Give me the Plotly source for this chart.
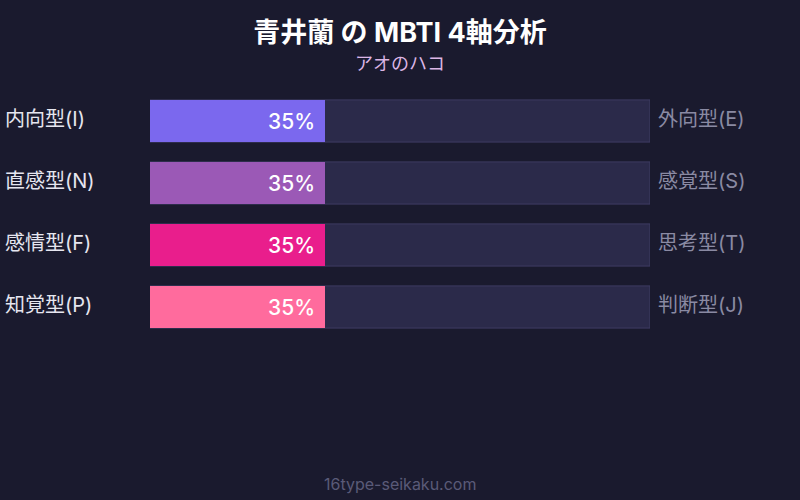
import plotly.graph_objects as go

categories = ["内向型(I)", "直感型(N)", "感情型(F)", "知覚型(P)"]
opposites = ["外向型(E)", "感覚型(S)", "思考型(T)", "判断型(J)"]
values = [35, 35, 35, 35]
colors = ["#7b68ee", "#9b59b6", "#e91e8c", "#ff6b9d"]
track = [100, 100, 100, 100]

FONT = "Inter, Noto Sans CJK JP, sans-serif"

fig = go.Figure()
fig.add_trace(go.Bar(
    y=categories, x=track, orientation="h", width=0.68, offset=-0.34,
    marker=dict(color="#2b2a4a", line=dict(color="#3e3c62", width=1)),
    hoverinfo="skip", showlegend=False,
))
fig.add_trace(go.Bar(
    y=categories, x=values, orientation="h", width=0.68, offset=-0.34,
    marker=dict(color=colors, cornerradius=8, line=dict(color="rgba(0,0,0,0)", width=0.5)),
    showlegend=False,
))

annotations = []
for c, o, v in zip(categories, opposites, values):
    annotations.append(dict(x=v, y=c, xref="x", yref="y", text=f"{v}%",
                            showarrow=False, xanchor="right", xshift=-8,
                            font=dict(family=FONT, size=21, color="white", weight=500)))
    annotations.append(dict(x=(3 - 150) / 500, y=c, xref="paper", yref="y", text=c,
                            showarrow=False, xanchor="left", yshift=2,
                            font=dict(family=FONT, size=20, color="#e6e6f0")))
    annotations.append(dict(x=(656 - 150) / 500, y=c, xref="paper", yref="y", text=o,
                            showarrow=False, xanchor="left", yshift=2,
                            font=dict(family=FONT, size=20, color="#8a8aa3")))

annotations.append(dict(x=0.5, y=1 + (90 - 63) / 248, xref="paper", yref="paper",
                        text="アオのハコ", showarrow=False, yanchor="middle",
                        font=dict(family=FONT, size=18, color="#dcb6e6")))
annotations.append(dict(x=0.5, y=-(484 - 338) / 248, xref="paper", yref="paper",
                        text="16type-seikaku.com", showarrow=False, yanchor="middle",
                        font=dict(family=FONT, size=16, color="#5a5a78")))

fig.update_layout(
    width=800, height=500,
    paper_bgcolor="#1a1a2e", plot_bgcolor="#1a1a2e",
    margin=dict(l=150, r=150, t=90, b=162),
    barmode="group", barcornerradius=8,
    title=dict(text="<b>青井蘭 の MBTI 4軸分析</b>", x=0.5, xanchor="center",
               y=1 - 33 / 500, yanchor="middle",
               font=dict(family=FONT, size=27, color="white")),
    xaxis=dict(range=[0, 100], visible=False, fixedrange=True),
    yaxis=dict(autorange="reversed", visible=False, fixedrange=True),
    font=dict(family=FONT),
    annotations=annotations,
)

fig.data[0].marker.cornerradius = 0

fig.write_html("out.html", config={"displayModeBar": False},
               post_script="document.body.style.margin='0';document.body.style.background='#1a1a2e';")
